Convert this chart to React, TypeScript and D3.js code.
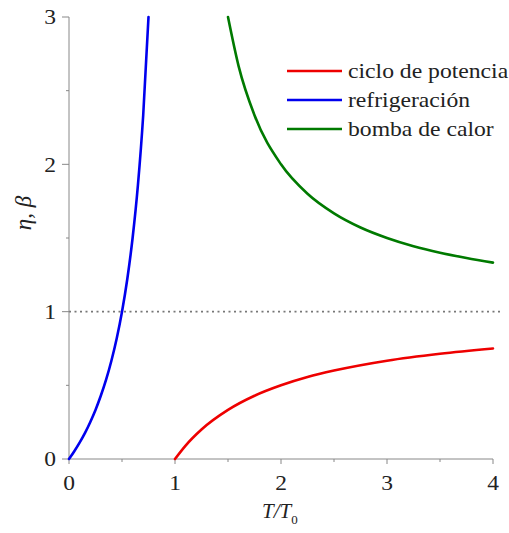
import React from 'react';
import * as d3 from 'd3';

// values
const powerX = [1, 1.1, 1.25, 1.5, 1.75, 2, 2.25, 2.5, 3, 3.5, 4];
const powerY = [0, 0.091, 0.2, 0.333, 0.429, 0.5, 0.556, 0.6, 0.667, 0.714, 0.75];

const fridgeX = [0, 0.05, 0.1, 0.15, 0.2, 0.25, 0.3, 0.35, 0.4, 0.45, 0.5, 0.55, 0.6, 0.65, 0.7, 0.75];
const fridgeY = [0, 0.053, 0.111, 0.176, 0.25, 0.333, 0.429, 0.538, 0.667, 0.818, 1.0, 1.222, 1.5, 1.857, 2.333, 3.0];

const pumpX = [1.5, 1.6, 1.75, 2, 2.25, 2.5, 2.75, 3, 3.25, 3.5, 3.75, 4];
const pumpY = [3.0, 2.667, 2.333, 2.0, 1.8, 1.667, 1.571, 1.5, 1.444, 1.4, 1.364, 1.333];

const legendLabels = ['ciclo de potencia', 'refrigeración', 'bomba de calor'];
const colors = ['#ee0000', '#0000ee', '#007a00'];

const xTicks = [0, 1, 2, 3, 4];
const yTicks = [0, 1, 2, 3];

const W = 509;
const H = 533;
const font = '"Liberation Serif", "Times New Roman", serif';

const App = () => {
  const x = d3.scaleLinear().domain([0, 4]).range([69, 493]);
  const y = d3.scaleLinear().domain([0, 3]).range([459, 17]);

  const line = d3
    .line<[number, number]>()
    .x(d => x(d[0]))
    .y(d => y(d[1]))
    .curve(d3.curveMonotoneX);

  const series = [
    d3.zip(powerX, powerY) as [number, number][],
    d3.zip(fridgeX, fridgeY) as [number, number][],
    d3.zip(pumpX, pumpY) as [number, number][],
  ];

  const xMinor = d3.range(0.5, 4, 1);
  const yMinor = d3.range(0.5, 3, 1);
  const axisColor = '#888';

  return (
    <div style={{ position: 'absolute', left: 0, top: 0 }}>
      <svg width={W} height={H} style={{ display: 'block', background: '#fff' }}>
        {/* dotted reference line */}
        <line
          x1={x(0)}
          x2={x(4) + 7}
          y1={y(1)}
          y2={y(1)}
          stroke="#777"
          strokeWidth={1.6}
          strokeDasharray="2,3.5"
        />

        {/* axes */}
        <line x1={x(0)} x2={x(0)} y1={y(0)} y2={y(3)} stroke={axisColor} strokeWidth={1} />
        <line x1={x(0)} x2={x(4)} y1={y(0)} y2={y(0)} stroke={axisColor} strokeWidth={1} />
        {yTicks.map(t => (
          <g key={'y' + t}>
            <line x1={x(0) - 7} x2={x(0)} y1={y(t)} y2={y(t)} stroke={axisColor} />
            <text
              transform={`translate(56, ${y(t)}) scale(1.12, 1)`}
              dy="0.35em"
              textAnchor="end"
              fontFamily={font}
              fontSize={21}
              fill="#222"
            >
              {t}
            </text>
          </g>
        ))}
        {yMinor.map(t => (
          <line key={'ym' + t} x1={x(0) - 3} x2={x(0)} y1={y(t)} y2={y(t)} stroke={axisColor} />
        ))}
        {xTicks.map(t => (
          <g key={'x' + t}>
            <line x1={x(t)} x2={x(t)} y1={y(0)} y2={y(0) + 5} stroke={axisColor} />
            <text
              transform={`translate(${x(t)}, 490) scale(1.12, 1)`}
              textAnchor="middle"
              fontFamily={font}
              fontSize={21}
              fill="#222"
            >
              {t}
            </text>
          </g>
        ))}
        {xMinor.map(t => (
          <line key={'xm' + t} x1={x(t)} x2={x(t)} y1={y(0)} y2={y(0) + 3} stroke={axisColor} />
        ))}

        {/* curves */}
        {series.map((s, i) => (
          <path
            key={i}
            d={line(s) || ''}
            fill="none"
            stroke={colors[i]}
            strokeWidth={2.6}
            strokeLinecap="round"
          />
        ))}

        {/* legend */}
        {legendLabels.map((lab, i) => (
          <g key={lab} transform={`translate(287, ${71 + i * 29})`}>
            <line x1={0} x2={55} y1={0} y2={0} stroke={colors[i]} strokeWidth={2.6} />
            <text
              transform="translate(61, 0) scale(1.1, 1)"
              dy="0.32em"
              fontFamily={font}
              fontSize={21.5}
              fill="#222"
            >
              {lab}
            </text>
          </g>
        ))}

        {/* axis titles */}
        <text
          transform={`translate(31, 213) rotate(-90)`}
          textAnchor="middle"
          fontFamily={font}
          fontStyle="italic"
          fontSize={23}
          fill="#222"
        >
          η, β
        </text>
        <text x={262} y={518} fontFamily={font} fontStyle="italic" fontSize={21} fill="#222">
          T/T
          <tspan fontStyle="normal" fontSize={13} dy={6}>
            0
          </tspan>
        </text>
      </svg>
    </div>
  );
};

export default App;
